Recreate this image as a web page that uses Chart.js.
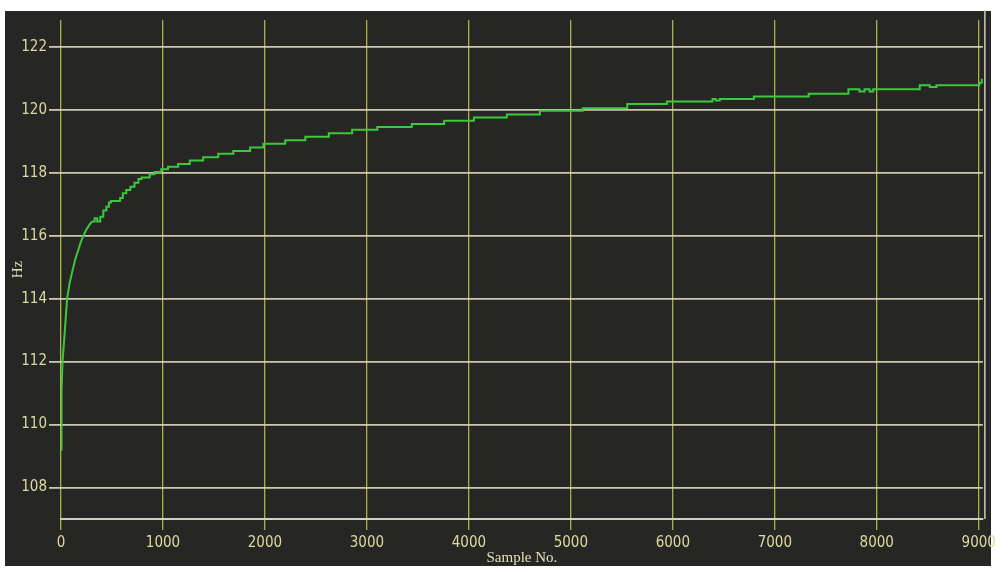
<!DOCTYPE html>
<html>
<head>
<meta charset="utf-8">
<script src="https://cdn.jsdelivr.net/npm/chart.js@4/dist/chart.umd.min.js"></script>
<style>
  html, body { margin: 0; padding: 0; background: #ffffff; }
  #wrap { width: 1000px; height: 572px; }
</style>
</head>
<body>
<div id="wrap"><canvas id="c" width="1000" height="572"></canvas></div>
<script>
// ---- data ----
// steep start of the record (smooth rise)
const riseSampleNo = [0, 2, 8, 15, 38, 60, 85, 110, 140, 170, 195, 220, 250, 280, 305];
const riseHz = [109.2, 110.0, 111.0, 112.0, 113.0, 114.0, 114.5, 114.85, 115.25, 115.55, 115.8, 116.0, 116.2, 116.35, 116.45];
// quantised, stair-like part of the record
const stepSampleNo = [
  305, 330, 355, 385, 415, 445, 470, 490, 580, 606, 640, 680, 721, 760, 790, 870, 917, 983,
  1049, 1148, 1263, 1394, 1542, 1690, 1854, 1985, 2199, 2396, 2626, 2855, 3102, 3440, 3757,
  4049, 4372, 4696, 5116, 5553, 5942, 6389, 6420, 6460, 6795, 7332, 7722, 7830, 7880, 7930,
  7965, 8421, 8520, 8585, 9006, 9030, 9040
];
const stepHz = [
  116.45, 116.55, 116.45, 116.6, 116.8, 116.92, 117.05, 117.1, 117.2, 117.35, 117.45, 117.55, 117.68, 117.8, 117.85, 117.95, 118.02, 118.11,
  118.19, 118.28, 118.39, 118.49, 118.6, 118.69, 118.8, 118.92, 119.03, 119.14, 119.25, 119.36, 119.45, 119.55, 119.65,
  119.75, 119.85, 119.97, 120.05, 120.18, 120.26, 120.34, 120.29, 120.34, 120.42, 120.51, 120.65, 120.58, 120.65, 120.58,
  120.65, 120.78, 120.72, 120.78, 120.86, 120.95, 120.97
];
const xTickValues = [0, 1000, 2000, 3000, 4000, 5000, 6000, 7000, 8000, 9000];
const yTickValues = [108, 110, 112, 114, 116, 118, 120, 122];
const xTitle = 'Sample No.';
const yTitle = 'Hz';

// ---- styling ----
const lineColor = '#3cc83c';
const labelColor = '#dcdaa0';
const titleColor = '#e4e0b4';
const tickFont = { family: "'Liberation Sans Narrow', 'DejaVu Sans Condensed', 'DejaVu Sans Mono', sans-serif", size: 15 };
const titleFont = { family: "'Liberation Serif', 'DejaVu Serif', serif", size: 15 };

const panelBg = {
  id: 'panelBg',
  beforeDraw(chart) {
    const ctx = chart.ctx;
    ctx.save();
    ctx.fillStyle = '#ffffff';
    ctx.fillRect(0, 0, chart.width, chart.height);
    ctx.fillStyle = '#262624';
    ctx.fillRect(5, 11, 986, 555);
    ctx.restore();
  },
  afterDraw(chart) {
    const { ctx, chartArea } = chart;
    ctx.save();
    ctx.strokeStyle = '#c9c9bf';
    ctx.lineWidth = 1.5;
    ctx.beginPath();
    ctx.moveTo(chartArea.right + 2, chartArea.top - 10);
    ctx.lineTo(chartArea.right + 2, chartArea.bottom);
    ctx.stroke();
    ctx.restore();
  }
};

new Chart(document.getElementById('c'), {
  type: 'line',
  data: {
    datasets: [{
      data: riseSampleNo.map((x, i) => ({ x: x, y: riseHz[i] })),
      borderColor: lineColor,
      borderWidth: 2,
      pointRadius: 0,
      stepped: false,
      tension: 0,
      fill: false
    }, {
      data: stepSampleNo.map((x, i) => ({ x: x, y: stepHz[i] })),
      borderColor: lineColor,
      borderWidth: 2,
      pointRadius: 0,
      stepped: true,
      tension: 0,
      fill: false
    }]
  },
  options: {
    responsive: false,
    animation: false,
    layout: { padding: { left: 0, top: 20, right: 16, bottom: 0 } },
    plugins: { legend: { display: false }, tooltip: { enabled: false } },
    scales: {
      x: {
        type: 'linear',
        min: 0,
        max: 9040,
        afterBuildTicks: s => { s.ticks = xTickValues.map(v => ({ value: v })); },
        afterFit: s => { s.height = 53; },
        ticks: {
          color: labelColor, font: tickFont, padding: 4, maxRotation: 0, autoSkip: false,
          callback: v => String(v)
        },
        grid: { color: 'rgba(200,200,80,0.85)', lineWidth: 1.3, tickLength: 11 },
        border: { display: true, color: '#cfcfc4', width: 2 },
        title: { display: true, text: xTitle, color: titleColor, font: titleFont, padding: { top: 0, bottom: 5 } }
      },
      y: {
        min: 107,
        max: 122.85,
        afterBuildTicks: s => { s.ticks = yTickValues.map(v => ({ value: v })); },
        afterFit: s => { s.width = 61; },
        ticks: { color: labelColor, font: tickFont, padding: 2, callback: v => String(v) },
        grid: { color: 'rgba(220,220,188,0.9)', lineWidth: 1.8, tickLength: 12 },
        border: { display: false },
        title: { display: true, text: yTitle, color: titleColor, font: titleFont, padding: { top: 9, bottom: 0 } }
      }
    }
  },
  plugins: [panelBg]
});
</script>
</body>
</html>
